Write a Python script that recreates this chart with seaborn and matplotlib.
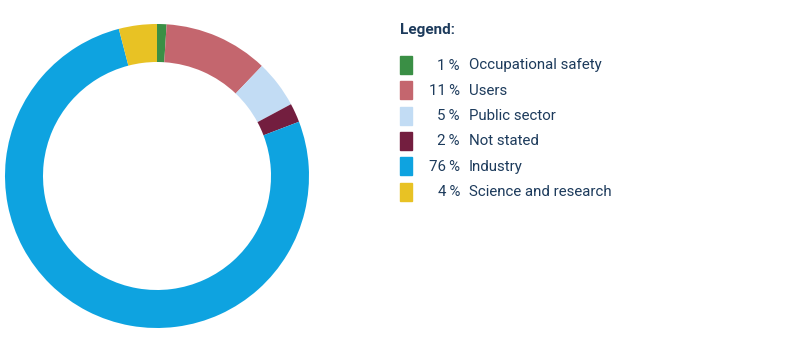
import matplotlib.pyplot as plt
from matplotlib.patches import Rectangle
import seaborn as sns

labels = ['Occupational safety', 'Users', 'Public sector', 'Not stated', 'Industry', 'Science and research']
shares = [1, 11, 5, 2, 76, 4]
colors = ['#3a8f45', '#c4666e', '#c2dcf4', '#731e3f', '#0ea3e0', '#e8c224']

sns.set_theme(style='white')
plt.rcParams['font.family'] = ['Roboto', 'DejaVu Sans']
text_color = '#1d3b5c'

W, H = 801, 351
fig = plt.figure(figsize=(W / 100, H / 100), dpi=100)

# donut
cx, cy, r = 157, 176, 152
ax = fig.add_axes([(cx - r) / W, (H - cy - r) / H, 2 * r / W, 2 * r / H])
ax.pie(shares, colors=sns.color_palette(colors), startangle=90, counterclock=False,
       radius=1, wedgeprops=dict(width=0.25, linewidth=0))
ax.set_xlim(-1, 1)
ax.set_ylim(-1, 1)
ax.set_aspect('equal')
ax.axis('off')

# legend
fig.text(400 / W, 1 - 30 / H, 'Legend:', fontsize=11, fontweight='bold',
         color=text_color, va='center', ha='left')
y0, dy = 65, 25.3
for i, (lab, s, c) in enumerate(zip(labels, shares, colors)):
    y = y0 + i * dy
    fig.patches.append(Rectangle((400 / W, 1 - (y + 9) / H), 12 / W, 18 / H,
                                 transform=fig.transFigure, color=c, figure=fig))
    fig.text(460 / W, 1 - (y + 0.5) / H, f'{s}\u2009%', fontsize=10.8, color=text_color,
             va='center', ha='right')
    fig.text(469 / W, 1 - (y + 0.5) / H, lab, fontsize=10.8, color=text_color,
             va='center', ha='left')

fig.savefig('out.png', dpi=100)
